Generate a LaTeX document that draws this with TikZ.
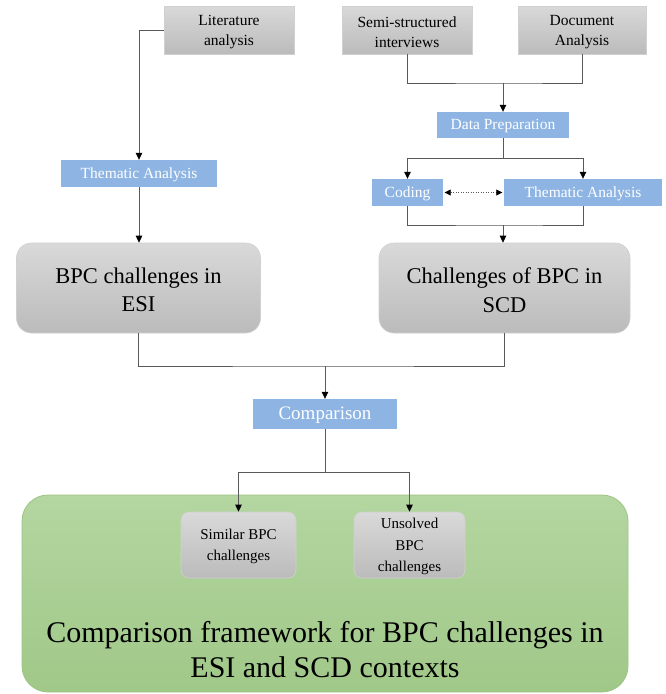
\documentclass[tikz,border=0pt]{standalone}
\usepackage{fontspec}
\setmainfont{Liberation Serif}
\usetikzlibrary{arrows.meta,calc}

\definecolor{linegray}{HTML}{595959}
\definecolor{boxtop}{HTML}{D9D9D9}
\definecolor{boxbot}{HTML}{BBBBBB}
\definecolor{boxedge}{HTML}{D0D0D0}
\definecolor{stepblue}{HTML}{8DB4E2}
\definecolor{greentop}{HTML}{B4D6A1}
\definecolor{greenbot}{HTML}{A0C888}
\definecolor{greenedge}{HTML}{9CC483}

\tikzset{
  % box fills
  graybox/.style={draw=boxedge, line width=0.6pt, top color=boxtop, bottom color=boxbot, inner sep=0pt},
  srcbox/.style={graybox},
  bluebox/.style={fill=stepblue, draw=none, inner sep=0pt},
  bigbox/.style={graybox, rounded corners=15pt, minimum height=90pt},
  smallbox/.style={graybox, rounded corners=8pt, minimum height=66pt},
  % captions, set slightly below the box centre
  srctext/.style={align=center, inner sep=0pt, yshift=-2.5pt, text=black,
    font=\fontsize{15.5}{20}\selectfont},
  bluetext/.style={align=center, inner sep=0pt, yshift=-1.5pt, text=white,
    font=\fontsize{15.5}{19}\selectfont},
  bigtext/.style={align=center, inner sep=0pt, yshift=-2pt, text=black,
    font=\fontsize{22.5}{28.5}\selectfont},
  smalltext/.style={align=center, inner sep=0pt, yshift=-1.5pt, text=black,
    font=\fontsize{15}{21.5}\selectfont},
  % connectors
  link/.style={draw=linegray, line width=0.8pt},
  tip/.tip={Triangle[length=7pt,width=6.5pt,color=black]},
  arrowlink/.style={link, -tip},
}

\begin{document}
\begin{tikzpicture}[x=1pt,y=-1pt]
  % canvas
  \path[fill=white] (0,0) rectangle (666,694);
  \useasboundingbox (0,0) rectangle (666,694);

  % framework container
  \node[draw=greenedge, line width=0.8pt, top color=greentop, bottom color=greenbot,
        rounded corners=26pt, minimum width=606pt, minimum height=197pt, inner sep=0pt]
        (frame) at (325,593.5) {};
  \node[align=center, font=\fontsize{30}{35}\selectfont] (frametext) at (325,650)
        {Comparison framework for BPC challenges in\\ESI and SCD contexts};

  % data sources
  \node[srcbox, minimum width=130pt, minimum height=48pt,
        label={[srctext]center:Literature\\analysis}] (lit) at (229,30) {};
  \node[srcbox, minimum width=130pt, minimum height=48pt,
        label={[srctext]center:Semi-structured\\interviews}] (semi) at (407,30) {};
  \node[srcbox, minimum width=128pt, minimum height=48pt,
        label={[srctext]center:Document\\Analysis}] (doc) at (582,30) {};

  % analysis steps
  \node[bluebox, minimum width=132pt, minimum height=26pt,
        label={[bluetext]center:Data Preparation}] (prep) at (503,125) {};
  \node[bluebox, minimum width=156pt, minimum height=27pt,
        label={[bluetext]center:Thematic Analysis}] (them1) at (139,173.5) {};
  \node[bluebox, minimum width=71pt, minimum height=27pt,
        label={[bluetext]center:Coding}] (coding) at (407.5,192.5) {};
  \node[bluebox, minimum width=158pt, minimum height=27pt,
        label={[bluetext]center:Thematic Analysis}] (them2) at (583,192.5) {};

  % challenge sets
  \node[bigbox, minimum width=244pt,
        label={[bigtext]center:BPC challenges in\\ESI}] (esi) at (138.5,288) {};
  \node[bigbox, minimum width=251pt,
        label={[bigtext]center:Challenges of BPC in\\SCD}] (scd) at (504.5,288) {};

  % comparison
  \node[bluebox, minimum width=144pt, minimum height=30pt,
        label={[bluetext, font=\fontsize{19}{23}\selectfont]center:Comparison}] (comp) at (325,414) {};
  \node[smallbox, minimum width=115pt,
        label={[smalltext]center:Similar BPC\\challenges}] (sim) at (238.5,545) {};
  \node[smallbox, minimum width=111pt,
        label={[smalltext]center:Unsolved\\BPC\\challenges}] (uns) at (409.5,545) {};

  % junction points
  \coordinate (j1) at (503,83);
  \coordinate (j2) at (503,158);
  \coordinate (j3) at (503,225);
  \coordinate (j4) at (325,366);
  \coordinate (j5) at (325,472);

  % literature branch
  \draw[arrowlink] (lit.west) -| (them1.north);
  \draw[arrowlink] (them1.south) -- (them1.south |- esi.north);

  % empirical branch
  \draw[link] (semi.south) |- (j1) -| (doc.south);
  \draw[arrowlink] (j1) -- (prep.north);
  \draw[link] (prep.south) -- (j2);
  \draw[arrowlink] (j2) -| (coding.north);
  \draw[arrowlink] (j2) -| (them2.north);
  \draw[link, dash pattern=on 1.2pt off 1.3pt, {Triangle[length=6pt,width=6pt,color=black]}-{Triangle[length=6pt,width=6pt,color=black]}]
        ($(coding.east)+(1.5,0)$) -- ($(them2.west)+(-1.5,0)$);
  \draw[link] (coding.south) |- (j3) -| (them2.south);
  \draw[arrowlink] (j3) -- (j3 |- scd.north);

  % merging both sets
  \draw[link] (esi.south) |- (j4) -| (scd.south);
  \draw[arrowlink] (j4) -- (comp.north);
  \draw[link] (comp.south) -- (j5);
  \draw[arrowlink] (j5) -| (sim.north);
  \draw[arrowlink] (j5) -| (uns.north);
\end{tikzpicture}
\end{document}
